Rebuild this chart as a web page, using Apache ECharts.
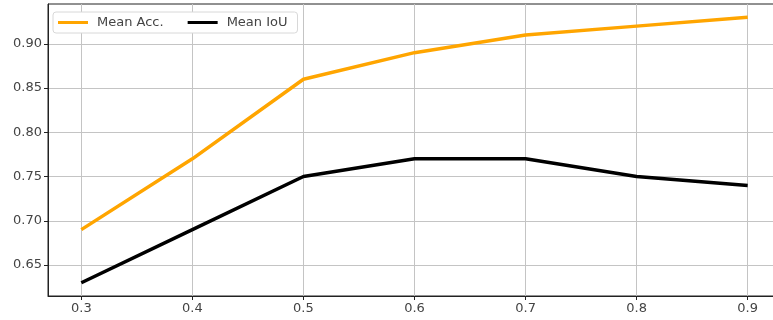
<!DOCTYPE html>
<html>
<head>
<meta charset="utf-8">
<script src="https://cdn.jsdelivr.net/npm/echarts@6/dist/echarts.min.js"></script>
<style>
  html, body { margin: 0; padding: 0; background: #fff; }
  #chart { width: 773px; height: 320px; }
</style>
</head>
<body>
<div id="chart"></div>
<script>
var thresholds = [0.3, 0.4, 0.5, 0.6, 0.7, 0.8, 0.9];
var meanAcc = [0.69, 0.77, 0.86, 0.89, 0.91, 0.92, 0.93];
var meanIoU = [0.63, 0.69, 0.75, 0.77, 0.77, 0.75, 0.74];
var yTicks = [0.65, 0.70, 0.75, 0.80, 0.85, 0.90];

var chart = echarts.init(document.getElementById('chart'));

function pairs(ys) {
  return thresholds.map(function (x, i) { return [x, ys[i]]; });
}

var font = 'DejaVu Sans';

var option = {
  animation: false,
  textStyle: { fontFamily: font },
  grid: {
    left: 48,
    right: -8,
    top: 4,
    bottom: 24,
    outerBoundsMode: 'none',
    containLabel: false,
    show: true,
    borderColor: '#222',
    borderWidth: 1
  },
  legend: {
    left: 53,
    top: 12,
    icon: 'rect',
    itemWidth: 30,
    itemHeight: 3,
    itemGap: 24,
    padding: [4, 10, 4, 5],
    backgroundColor: '#fff',
    borderColor: '#d8d8d8',
    borderWidth: 1,
    borderRadius: 3,
    textStyle: { fontFamily: font, fontSize: 13, color: '#444', padding: [0, 0, 0, 4] },
    data: ['Mean Acc.', 'Mean IoU']
  },
  xAxis: {
    type: 'value',
    min: 0.27,
    max: 0.93,
    axisLine: { show: true, onZero: false, lineStyle: { color: '#222', width: 1 } },
    axisTick: {
      show: true,
      customValues: thresholds,
      length: 4,
      lineStyle: { color: '#222' }
    },
    axisLabel: {
      customValues: thresholds,
      fontFamily: font,
      fontSize: 13,
      color: '#444',
      margin: 6,
      formatter: function (v) { return v.toFixed(1); }
    },
    splitLine: { show: true, lineStyle: { color: '#c4c4c4', width: 1 } }
  },
  yAxis: {
    type: 'value',
    min: 0.615,
    max: 0.945,
    axisLine: { show: true, lineStyle: { color: '#222', width: 1 } },
    axisTick: {
      show: true,
      customValues: yTicks,
      length: 4,
      lineStyle: { color: '#222' }
    },
    axisLabel: {
      customValues: yTicks,
      fontFamily: font,
      fontSize: 13,
      color: '#444',
      margin: 6,
      formatter: function (v) { return v.toFixed(2); }
    },
    splitLine: { show: true, lineStyle: { color: '#c4c4c4', width: 1 } }
  },
  series: [{
    name: 'Mean Acc.',
    type: 'line',
    data: pairs(meanAcc),
    symbol: 'none',
    color: '#FFA500',
    lineStyle: { color: '#FFA500', width: 3.5 }
  }, {
    name: 'Mean IoU',
    type: 'line',
    data: pairs(meanIoU),
    symbol: 'none',
    color: '#000',
    lineStyle: { color: '#000', width: 3.5 }
  }]
};

chart.setOption(option);
</script>
</body>
</html>
